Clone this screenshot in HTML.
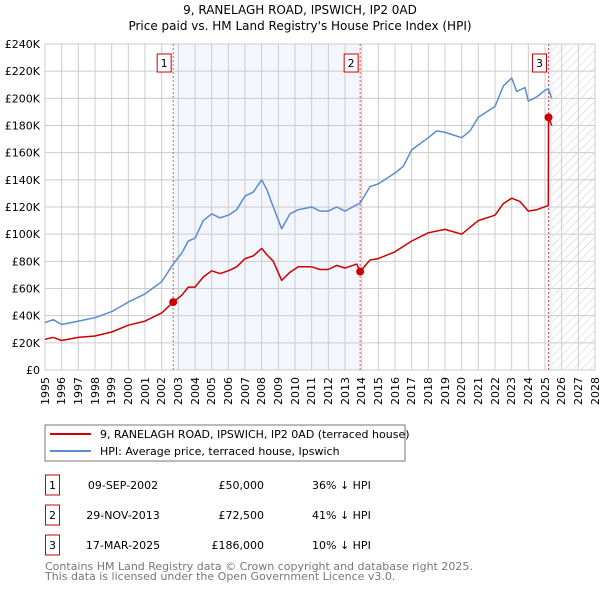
<!DOCTYPE html>
<html><head><meta charset="utf-8"><style>
body{margin:0;background:#fff;font-family:"DejaVu Sans","Liberation Sans",sans-serif;}
svg text{font-family:"DejaVu Sans","Liberation Sans",sans-serif;}
#wrap{position:relative;width:600px;height:590px;overflow:hidden;}
.xl{position:absolute;width:40px;height:13px;line-height:13px;font-size:11px;text-align:right;transform-origin:0 0;transform:rotate(-90deg);white-space:nowrap;}
</style></head><body>
<div id="wrap">
<svg id="c" width="600" height="590" xmlns="http://www.w3.org/2000/svg" style="position:absolute;left:0;top:0">
<defs><pattern id="hatch" width="6" height="6" patternUnits="userSpaceOnUse" patternTransform="rotate(45)"><line x1="0" y1="0" x2="0" y2="6" stroke="#ccc" stroke-width="1"/></pattern></defs>
<text x="300" y="14" text-anchor="middle" font-size="12">9, RANELAGH ROAD, IPSWICH, IP2 0AD</text>
<text x="300" y="30" text-anchor="middle" font-size="12">Price paid vs. HM Land Registry's House Price Index (HPI)</text>
<g id="plot"></g>
<rect x="45" y="425" width="360" height="36" fill="#fff" stroke="#777"/>
<line x1="50" y1="434" x2="91" y2="434" stroke="#cc0000" stroke-width="2"/>
<text x="100" y="438" font-size="11">9, RANELAGH ROAD, IPSWICH, IP2 0AD (terraced house)</text>
<line x1="50" y1="451" x2="91" y2="451" stroke="#5b8bd0" stroke-width="2"/>
<text x="100" y="455" font-size="11">HPI: Average price, terraced house, Ipswich</text>
<g id="tbl" font-size="11"></g>
<text x="45" y="570" font-size="11" fill="#777">Contains HM Land Registry data © Crown copyright and database right 2025.</text>
<text x="45" y="580" font-size="11" fill="#777">This data is licensed under the Open Government Licence v3.0.</text>
</svg>
<div id="xlabels"></div>
</div>
<script>
const hpiYears=[1995,1995.5,1996,1997,1998,1999,2000,2001,2002,2002.69,2003.2,2003.6,2004,2004.5,2005,2005.5,2006,2006.5,2007,2007.5,2008,2008.3,2008.7,2009.2,2009.7,2010.2,2011,2011.5,2012,2012.5,2013,2013.91,2014.5,2015,2016,2016.5,2017,2018,2018.5,2019,2019.5,2020,2020.5,2021,2022,2022.5,2023,2023.3,2023.8,2024,2024.5,2025,2025.2,2025.4];
const hpiValues=[35,37,33.5,36,38.5,43,50,56,65,78,86,95,97,110,115,112,114,118,128,131,140,133,120,104,115,118,120,117,117,120,117,123,135,137,145,150,162,171,176,175,173,171,176,186,194,209,215,205,208,198,201,206,207,200];
const redYears=[1995,1995.5,1996,1997,1998,1999,2000,2001,2002,2002.69,2003.2,2003.6,2004,2004.5,2005,2005.5,2006,2006.5,2007,2007.5,2008,2008.3,2008.7,2009.2,2009.7,2010.2,2011,2011.5,2012,2012.5,2013,2013.7,2013.91,2014.5,2015,2016,2017,2018,2019,2020,2021,2022,2022.5,2023,2023.5,2024,2024.5,2025.2,2025.21,2025.4];
const redValues=[22.6,24,21.7,24,25,28,33,36,42,50,55,61,61,68.5,73,71,73,76,82,84,89.5,85,80,66,72,76,76,74,74,77,75,78,72.5,81,82,87,95,101,103.5,100,110,114,122.5,126.5,124,117,118,121,186,180];
const saleYears=[2002.69,2013.91,2025.21];
const saleValues=[50,72.5,186];
const saleLabels=["1","2","3"];
const yTicks=[0,20,40,60,80,100,120,140,160,180,200,220,240];
const yTickLabels=["£0","£20K","£40K","£60K","£80K","£100K","£120K","£140K","£160K","£180K","£200K","£220K","£240K"];
const saleDates=["09-SEP-2002","29-NOV-2013","17-MAR-2025"];
const salePrices=["£50,000","£72,500","£186,000"];
const saleDiffs=["36% ↓ HPI","41% ↓ HPI","10% ↓ HPI"];

const NS="http://www.w3.org/2000/svg";
const X0=45,X1=595,Y0=370,Y1=44;
const x=y=>X0+(y-1995)/(2028-1995)*(X1-X0);
const yv=v=>Y0-v/240*(Y0-Y1);
function mk(t,a,p){const e=document.createElementNS(NS,t);for(const k in a)e.setAttribute(k,a[k]);p.appendChild(e);return e;}
const g=document.getElementById('plot');
const xl=document.getElementById('xlabels');
let e;
e=mk('rect',{x:x(saleYears[0]),y:Y1,width:x(saleYears[1])-x(saleYears[0]),height:Y0-Y1,fill:'#eef2fc',opacity:0.7},g);


e=mk('rect',{x:x(2025.2),y:Y1,width:x(2025.45)-x(2025.2),height:Y0-Y1,fill:'#eef2fc'},g);


e=mk('rect',{x:x(2025.45),y:Y1,width:X1-x(2025.45),height:Y0-Y1,fill:'url(#hatch)'},g);


for(let yr=1995;yr<=2028;yr++){
 e=mk('line',{x1:x(yr),x2:x(yr),y1:Y1,y2:Y0,stroke:'#ccc','stroke-width':1},g);
 
 
 const d=document.createElement('div');
 d.className='xl';
 d.style.left=(x(yr)-6.5)+'px';
 d.style.top=(377+40)+'px';
 d.textContent=yr;
 
 
 xl.appendChild(d);
}
yTicks.forEach((v,i)=>{
 e=mk('line',{x1:X0,x2:X1,y1:yv(v),y2:yv(v),stroke:'#ccc','stroke-width':1},g);
 
 
 e=mk('text',{x:40,y:yv(v)+4,'font-size':11,'text-anchor':'end'},g);
 e.textContent=yTickLabels[i];
 
 
});
saleYears.forEach((s,i)=>{
 e=mk('line',{x1:x(s),x2:x(s),y1:Y1,y2:Y0,stroke:'#e05555','stroke-width':1,'stroke-dasharray':'2,2'},g);
 
 
});
function path(xs,vs,col,name){
 const d=xs.map((a,i)=>(i?'L':'M')+x(a).toFixed(1)+','+yv(vs[i]).toFixed(1)).join('');
 e=mk('path',{d,fill:'none',stroke:col,'stroke-width':1.5,'stroke-linejoin':'round'},g);
 
 
}
path(hpiYears,hpiValues,'#5b8bd0','hpi-line');
path(redYears,redValues,'#cc0000','price-paid-line');
saleYears.forEach((s,i)=>{
 e=mk('circle',{cx:x(s),cy:yv(saleValues[i]),r:4,fill:'#cc0000'},g);
 
 
 const bx=x(s)-16;
 e=mk('rect',{x:bx,y:54,width:14,height:18,fill:'#fff',stroke:'#cc0000'},g);
 
 
 e=mk('text',{x:bx+7,y:67,'font-size':11,'text-anchor':'middle'},g);
 e.textContent=saleLabels[i];
 
 
});
const t=document.getElementById('tbl');
saleLabels.forEach((l,i)=>{
 const cy=485+i*30;
 e=mk('rect',{x:45.5,y:cy-10,width:14,height:20,fill:'#fff',stroke:'#cc0000'},t);
 
 
 e=mk('text',{x:52.5,y:cy+4,'text-anchor':'middle'},t);e.textContent=l;
 
 
 e=mk('text',{x:123,y:cy+4,'text-anchor':'middle'},t);e.textContent=saleDates[i];
 
 
 e=mk('text',{x:264,y:cy+4,'text-anchor':'end'},t);e.textContent=salePrices[i];
 
 
 e=mk('text',{x:312,y:cy+4},t);e.textContent=saleDiffs[i];
 
 
});
</script>
</body></html>
